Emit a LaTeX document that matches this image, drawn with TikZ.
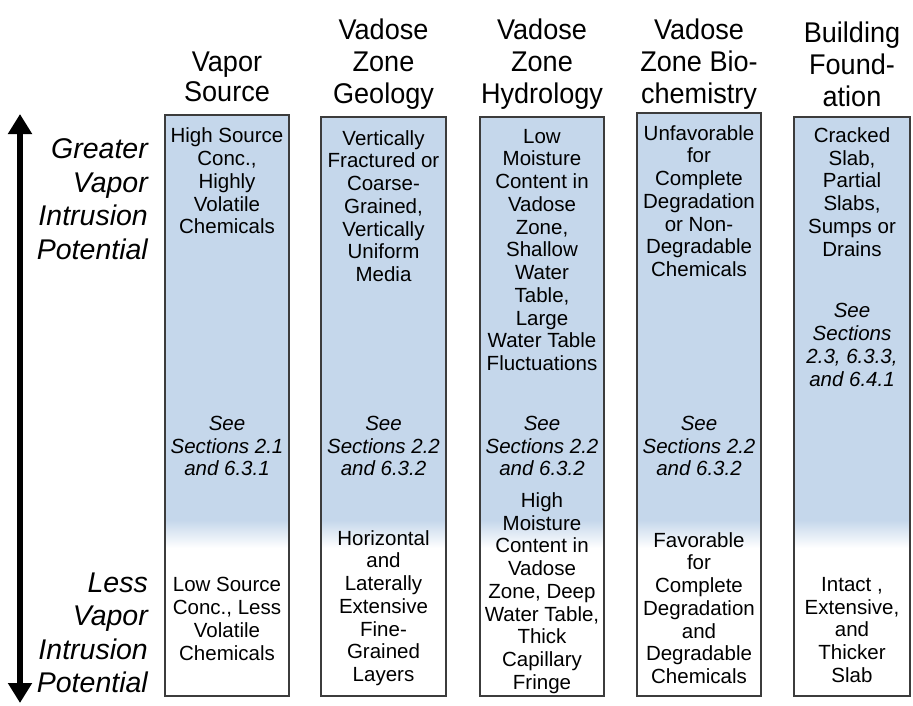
\documentclass[tikz,border=0pt]{standalone}
\usepackage{fontspec}
\setmainfont{Liberation Sans}
\newfontfamily\headfont{Liberation Sans}[FakeStretch=0.95]
\usetikzlibrary{arrows.meta}
\definecolor{boxblue}{RGB}{197,215,235}
\definecolor{boxline}{RGB}{60,60,60}
\begin{document}
\begin{tikzpicture}[x=1pt,y=-1pt,
  body/.style={align=center, inner sep=0pt, font=\fontsize{20.5}{22.75}\selectfont},
  see/.style={align=center, inner sep=0pt, font=\fontsize{20.5}{22.75}\selectfont\itshape},
  head/.style={align=center, inner sep=0pt, font=\headfont\fontsize{28.5}{32}\selectfont},
  side/.style={align=right, anchor=east, inner sep=0pt, font=\fontsize{28.5}{33.5}\selectfont\itshape},
  colbox/.style={draw=boxline, line width=1.1pt, inner sep=0pt}]
\useasboundingbox (0,0) rectangle (913,705);

% column fills
\foreach \xa/\xb/\yt in {165/289/115, 321/446/117, 480/604/117, 637/761/113, 794/910/117}{
  \fill[boxblue] (\xa,\yt) rectangle (\xb,521);
  \shade[top color=boxblue, bottom color=white] (\xa,520) rectangle (\xb,548);
}
% column frames
\node[colbox, minimum width=124pt, minimum height=581pt] (c1) at (227,405.5) {};
\node[colbox, minimum width=125pt, minimum height=579pt] (c2) at (383.5,406.5) {};
\node[colbox, minimum width=124pt, minimum height=579pt] (c3) at (542,406.5) {};
\node[colbox, minimum width=124pt, minimum height=583pt] (c4) at (699,404.5) {};
\node[colbox, minimum width=116pt, minimum height=579pt] (c5) at (852,406.5) {};

% headers
\node[head, font=\headfont\fontsize{28.5}{30}\selectfont] (h1) at (227,77) {Vapor\\Source};
\node[head] (h2) at (383.5,64) {Vadose\\Zone\\Geology};
\node[head] (h3) at (542,64) {Vadose\\Zone\\Hydrology};
\node[head] (h4) at (699,64) {Vadose\\Zone Bio-\\chemistry};
\node[head] (h5) at (852,64) {Building\\Found-\\ation};

% side labels and arrow
\node[side] (gt) at (148,199) {Greater\\Vapor\\Intrusion\\Potential};
\node[side] (ls) at (148,633) {Less\\Vapor\\Intrusion\\Potential};
\coordinate (atop) at (20,114);
\coordinate (abot) at (20,703);
\draw[line width=6.5pt, {Triangle[width=23pt,length=20pt]}-{Triangle[width=23pt,length=20pt]}] (abot) -- (atop);

% column 1
\node[body] (t1) at (227,181) {High Source\\Conc.,\\Highly\\Volatile\\Chemicals};
\node[see] (s1) at (227,446) {See\\Sections 2.1\\and 6.3.1};
\node[body] (b1) at (227,619) {Low Source\\Conc., Less\\Volatile\\Chemicals};

% column 2
\node[body] (t2) at (383.5,206) {Vertically\\Fractured or\\Coarse-\\Grained,\\Vertically\\Uniform\\Media};
\node[see] (s2) at (383.5,446) {See\\Sections 2.2\\and 6.3.2};
\node[body] (b2) at (383.5,608) {Horizontal\\and\\Laterally\\Extensive\\Fine-\\Grained\\Layers};

% column 3
\node[body] (t3) at (542,250) {Low\\Moisture\\Content in\\Vadose\\Zone,\\Shallow\\Water\\Table,\\Large\\Water Table\\Fluctuations};
\node[see] (s3) at (542,446) {See\\Sections 2.2\\and 6.3.2};
\node[body] (b3) at (542,593) {High\\Moisture\\Content in\\Vadose\\Zone, Deep\\Water Table,\\Thick\\Capillary\\Fringe};

% column 4
\node[body] (t4) at (699,201) {Unfavorable\\for\\Complete\\Degradation\\or Non-\\Degradable\\Chemicals};
\node[see] (s4) at (699,446) {See\\Sections 2.2\\and 6.3.2};
\node[body] (b4) at (699,608) {Favorable\\for\\Complete\\Degradation\\and\\Degradable\\Chemicals};

% column 5
\node[body] (t5) at (852,192) {Cracked\\Slab,\\Partial\\Slabs,\\Sumps or\\Drains};
\node[see] (s5) at (852,345) {See\\Sections\\2.3, 6.3.3,\\and 6.4.1};
\node[body] (b5) at (852,630) {Intact ,\\Extensive,\\and\\Thicker\\Slab};
\end{tikzpicture}
\end{document}
